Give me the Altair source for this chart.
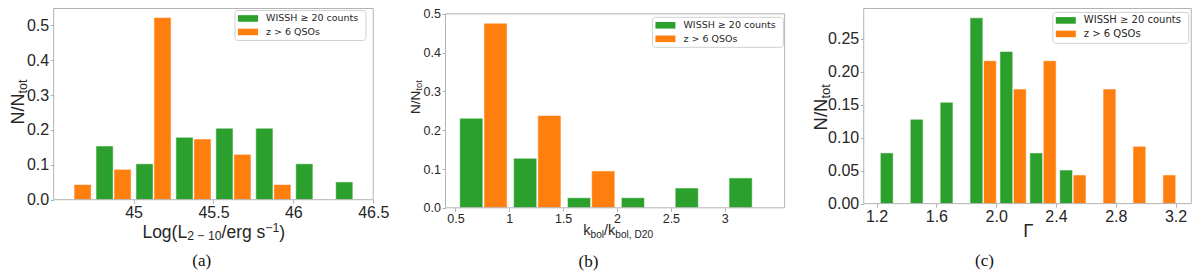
import altair as alt
import pandas as pd

# ------------------------------------------------------------------ data
series = ["WISSH  \u2265 20 counts", "z > 6 QSOs"]
colors = ["#2ca02c", "#ff7f0e"]

# panel (a): Log(L2-10)
a_edges = [44.5, 44.75, 45.0, 45.25, 45.5, 45.75, 46.0, 46.25, 46.5]
a_green = [0.0, 0.154, 0.103, 0.179, 0.205, 0.205, 0.103, 0.051]
a_orange = [0.0435, 0.087, 0.522, 0.174, 0.130, 0.0435, 0.0, 0.0]
a_xticks = [45, 45.5, 46, 46.5]
a_yticks = [0.0, 0.1, 0.2, 0.3, 0.4, 0.5]

# panel (b): kbol / kbol,D20
b_edges = [0.51, 1.01, 1.51, 2.01, 2.51, 3.01, 3.51]
b_green = [0.231, 0.128, 0.026, 0.026, 0.051, 0.077]
b_orange = [0.476, 0.238, 0.095, 0.0, 0.0, 0.0]
b_xticks = [0.5, 1, 1.5, 2, 2.5, 3]
b_yticks = [0.0, 0.1, 0.2, 0.3, 0.4, 0.5]

# panel (c): photon index Gamma
c_edges = [1.213, 1.413, 1.613, 1.813, 2.013, 2.213, 2.413, 2.613, 2.813, 3.013, 3.213]
c_green = [0.077, 0.128, 0.154, 0.282, 0.231, 0.077, 0.051, 0.0, 0.0, 0.0]
c_orange = [0.0, 0.0, 0.0, 0.217, 0.174, 0.217, 0.0435, 0.174, 0.087, 0.0435]
c_xticks = [1.2, 1.6, 2.0, 2.4, 2.8, 3.2]
c_yticks = [0.0, 0.05, 0.10, 0.15, 0.20, 0.25]

# ------------------------------------------------------------------ layout helpers
W, H = 1184, 264


def PX(x):
    return (x - 3.5) * 0.9925


def PY(y):
    return (y - 4) * 0.978


TXT = "#262626"
GRAY = "#b3b3b3"
SANS = "Liberation Sans"

AW = {" ": 278, "(": 333, ")": 333, "/": 278, ",": 278, ".": 278, "\u2212": 584,
      "L": 556, "N": 722, "D": 722, "k": 500, "b": 556, "o": 556, "l": 222,
      "g": 556, "e": 556, "r": 333, "s": 500, "t": 278, "\u0393": 556}


def rich(pieces, cx, cy, base, angle=0):
    widths = [sum(AW.get(ch, 556) for ch in t) / 1000 * base * rs for t, rs, sh in pieces]
    total = sum(widths)
    rows = []
    pos = -total / 2
    for (t, rs, sh), w in zip(pieces, widths):
        if angle == 0:
            rows.append(dict(px=cx + pos, py=cy + sh * base, t=t, fs=base * rs, ang=0))
        else:
            rows.append(dict(px=cx + sh * base, py=cy - pos, t=t, fs=base * rs, ang=270))
        pos += w
    return rows


def panel(edges, green, orange, xdom, ydom, box, xticks, xfmt, yticks, yfmt,
          tick_fs, leg_xy, leg_fs):
    L, R, T, B = PX(box[0]), PX(box[1]), PY(box[2]) + 0.5, PY(box[3])
    rows = []
    for i in range(len(green)):
        e, w = edges[i], edges[i + 1] - edges[i]
        if green[i] > 0:
            rows.append(dict(x=e + 0.06 * w, x2=e + 0.49 * w, v=green[i], s=series[0]))
        if orange[i] > 0:
            rows.append(dict(x=e + 0.51 * w, x2=e + 0.94 * w, v=orange[i], s=series[1]))
    df = pd.DataFrame(rows)
    xs = alt.Scale(domain=xdom, range=[L, R], nice=False, zero=False)
    ys = alt.Scale(domain=ydom, range=[B, T], nice=False, zero=False)
    common = dict(title=None, grid=False, domain=False, tickSize=3.5, tickColor=GRAY,
                  tickWidth=1, labelFont=SANS, labelFontSize=tick_fs, labelColor=TXT,
                  labelFlush=False, labelOverlap=False, labelBound=False)
    xaxis = alt.Axis(orient="bottom", offset=B - H, values=xticks, format=xfmt,
                     labelPadding=1.5, **common)
    yaxis = alt.Axis(orient="left", offset=-L, values=yticks, format=yfmt,
                     labelPadding=1.5, **common)
    legend = alt.Legend(orient="none", legendX=PX(leg_xy[0]), legendY=PY(leg_xy[1]),
                        title=None, symbolType="M-1,-0.66H3V0.66H-1Z", symbolSize=100,
                        symbolStrokeWidth=0, symbolOpacity=1, labelFont="DejaVu Sans",
                        labelFontSize=leg_fs, labelColor=TXT, labelOffset=18,
                        rowPadding=3.5, padding=3.5, strokeColor="#d0d0d0",
                        fillColor="white", cornerRadius=3, labelLimit=400)
    bars = alt.Chart(df).mark_rect(stroke="white", strokeWidth=1, strokeOpacity=0.55).encode(
        x=alt.X("x:Q", scale=xs, axis=xaxis),
        x2="x2:Q",
        y=alt.Y("v:Q", scale=ys, axis=yaxis),
        y2=alt.datum(0),
        color=alt.Color("s:N", scale=alt.Scale(domain=series, range=colors), legend=legend),
    )
    fdf = pd.DataFrame([dict(x=xdom[0], x2=xdom[1], v=ydom[1], v0=0.0)])
    frame = alt.Chart(fdf).mark_rect(filled=False, stroke=GRAY, strokeWidth=1).encode(
        x=alt.X("x:Q", scale=xs, axis=xaxis), x2="x2:Q",
        y=alt.Y("v:Q", scale=ys, axis=yaxis), y2="v0:Q")
    return alt.layer(bars, frame)


pa = panel(a_edges, a_green, a_orange, [44.5, 46.5], [0, 0.548], (49.5, 371.5, 4, 200),
           a_xticks, "~g", a_yticks, ".1f", 16, (231.7, 6), 9.5)
pb = panel(b_edges, b_green, b_orange, [0.408, 3.556], [0, 0.5], (444.3, 786, 9.5, 208.3),
           b_xticks, "~g", b_yticks, ".1f", 12.5, (652.3, 13), 9.5)
pc = panel(c_edges, c_green, c_orange, [1.114, 3.305], [0, 0.2962], (865.7, 1195.7, 4, 204),
           c_xticks, ".1f", c_yticks, ".2f", 16, (1055.7, 8), 10)

# ------------------------------------------------------------------ axis titles (with sub/superscripts)
trows = []
trows += rich([("N/N", 1, 0), ("tot", 0.7, 0.2)], PX(19.5), PY(100), 18, 270)
trows += rich([("N/N", 1, 0), ("tot", 0.7, 0.2)], PX(418.3), PY(95), 13.5, 270)
trows += rich([("N/N", 1, 0), ("tot", 0.7, 0.2)], PX(828.3), PY(105.5), 18.5, 270)
trows += rich([("Log(L", 1, 0), ("2 \u2212 10", 0.7, 0.16), ("/erg s", 1, 0),
               ("\u22121", 0.7, -0.31), (")", 1, 0)], PX(210.8), PY(238.8), 17.5)
trows += rich([("k", 1, 0), ("bol", 0.7, 0.2), ("/k", 1, 0), ("bol, D20", 0.7, 0.2)],
              PX(618.3), PY(236), 14.5)
trows += rich([("\u0393", 1, 0)], PX(1031.5), PY(238), 18.5)
tdf = pd.DataFrame(trows)

titles = alt.Chart(tdf).mark_text(align="left", baseline="alphabetic", font=SANS, color=TXT).encode(
    x=alt.X("px:Q", scale=None), y=alt.Y("py:Q", scale=None), text="t:N",
    size=alt.Size("fs:Q", scale=None), angle=alt.Angle("ang:Q", scale=None))

cap_df = pd.DataFrame(dict(t=["(a)", "(b)", "(c)"],
                           px=[PX(198.7), PX(588.3), PX(987.3)],
                           py=[PY(268), PY(269), PY(268)]))
captions = alt.Chart(cap_df).mark_text(align="center", baseline="alphabetic",
                                       font="Liberation Serif", fontSize=17, color="#111").encode(
    x=alt.X("px:Q", scale=None), y=alt.Y("py:Q", scale=None), text="t:N")

chart = alt.layer(pa, pb, pc, titles, captions).resolve_scale(
    x="independent", y="independent", color="independent"
).properties(
    width=W, height=H, autosize=alt.AutoSizeParams(type="none"), padding=0
).configure_view(stroke=None)

chart.save("out.html", embed_options={"renderer": "svg", "actions": False})
